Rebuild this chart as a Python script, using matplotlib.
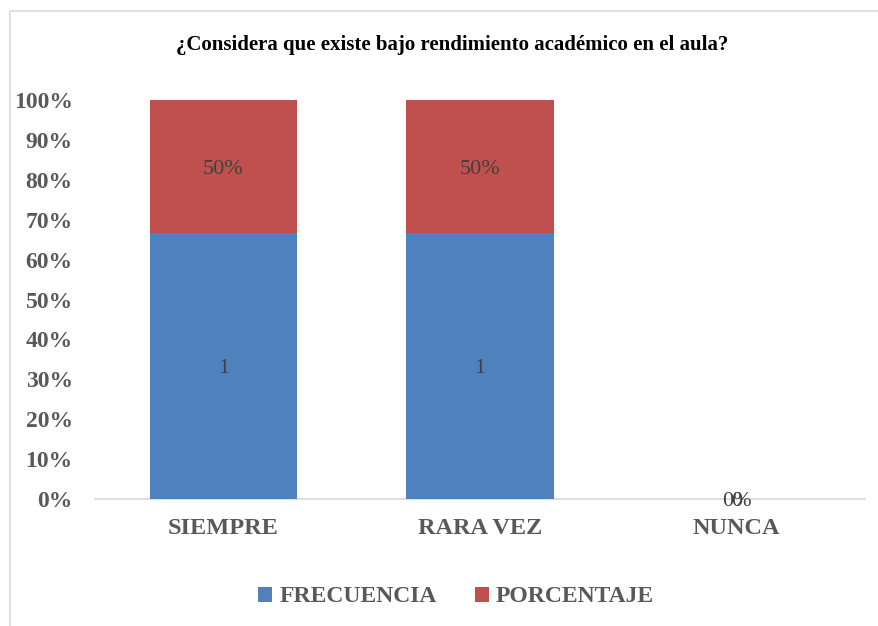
import numpy as np
import matplotlib.pyplot as plt
from matplotlib.patches import Rectangle

plt.rcParams['font.family'] = ['Liberation Serif', 'DejaVu Serif']

# Data
categories = ["SIEMPRE", "RARA VEZ", "NUNCA"]
frecuencia = [1, 1, 0]
porcentaje = [0.5, 0.5, 0.0]
freq_labels = ["1", "1", "0"]
pct_labels = ["50%", "50%", "0%"]
title = "¿Considera que existe bajo rendimiento académico en el aula?"

blue = "#4F81BD"
red = "#C0504D"
tick_gray = "#595959"
label_gray = "#404040"

W, H = 879, 626
fig = plt.figure(figsize=(W / 100, H / 100), dpi=100)
ax = fig.add_axes([95 / W, 1 - 499 / H, (865 - 95) / W, (499 - 100) / H])

# chart border
fig.patches.append(Rectangle((10 / W, -0.1), 1.2, 1 - 11 / H + 0.1,
                             transform=fig.transFigure, fill=False,
                             edgecolor="#D9D9D9", linewidth=1.2))

x = np.arange(len(categories))
freq = np.array(frecuencia, dtype=float)
pct = np.array(porcentaje, dtype=float)
total = freq + pct
safe = np.where(total == 0, 1, total)
f_share = np.where(total == 0, 0, freq / safe)
p_share = np.where(total == 0, 0, pct / safe)

width = 0.575
ax.bar(x, f_share, width, color=blue, label="FRECUENCIA", zorder=3)
ax.bar(x, p_share, width, bottom=f_share, color=red, label="PORCENTAJE", zorder=3)

for i in range(len(categories)):
    ax.text(x[i], f_share[i] / 2, freq_labels[i], ha="center",
            va="center_baseline", fontsize=16, color=label_gray, zorder=4)
    ax.text(x[i], f_share[i] + p_share[i] / 2, pct_labels[i], ha="center",
            va="center_baseline", fontsize=16, color=label_gray, zorder=4)

ax.set_xlim(-0.5, len(categories) - 0.5)
ax.set_ylim(0, 1)
ax.set_yticks(np.linspace(0, 1, 11))
ax.set_yticklabels([f"{int(round(v * 100))}%" for v in np.linspace(0, 1, 11)],
                   fontsize=17, fontweight="bold", color=tick_gray)
ax.set_xticks(x)
ax.set_xticklabels(categories, fontsize=17.5, fontweight="bold", color=tick_gray)
ax.tick_params(axis="both", length=0)
ax.tick_params(axis="y", pad=16)
ax.tick_params(axis="x", pad=14)
for s in ["top", "right", "left"]:
    ax.spines[s].set_visible(False)
ax.spines["bottom"].set_color("#D9D9D9")
ax.spines["bottom"].set_linewidth(1.2)

fig.text(452 / W, 1 - 45 / H, title, ha="center", va="center",
         fontsize=15, fontweight="bold", color="black")

leg = fig.legend(loc="center", bbox_to_anchor=(456 / W, 1 - 597 / H), ncol=2,
                 frameon=False, handlelength=0.6, handleheight=0.6,
                 handletextpad=0.3, columnspacing=1.6,
                 prop={"size": 17, "weight": "bold"})
for t in leg.get_texts():
    t.set_color(tick_gray)

fig.savefig("out.png", dpi=100)
